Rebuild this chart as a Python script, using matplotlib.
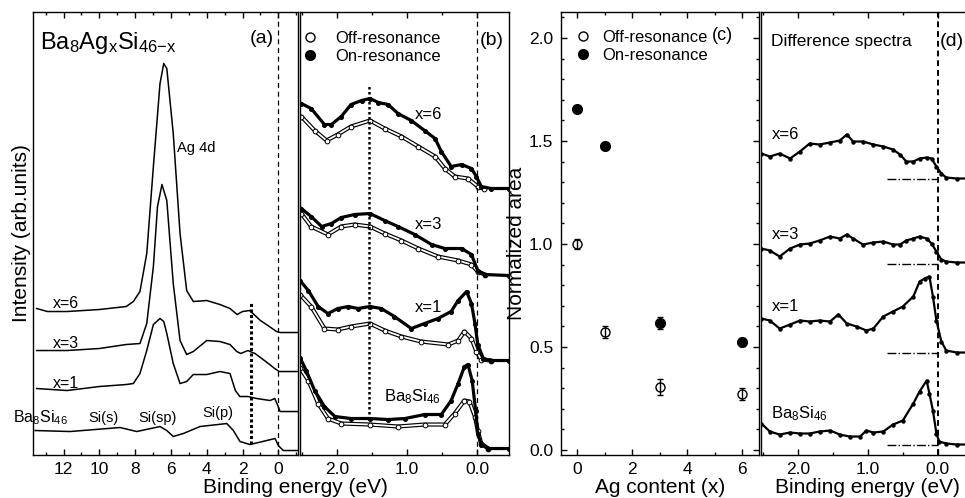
import matplotlib
matplotlib.use('Agg')
import matplotlib.pyplot as plt
from matplotlib.lines import Line2D
from matplotlib.ticker import MultipleLocator, FormatStrFormatter

plt.rcParams['font.family'] = ['Liberation Sans', 'DejaVu Sans']
plt.rcParams['mathtext.fontset'] = 'custom'
plt.rcParams['mathtext.rm'] = 'Liberation Sans'
plt.rcParams['mathtext.it'] = 'Liberation Sans:italic'
plt.rcParams['axes.linewidth'] = 1.0

# ---- (a) valence band, wide range (arb. units) ----
a6_e = [13.5, 12.9, 11.8, 10.0, 8.5, 8.1, 7.73, 7.35, 6.98, 6.61, 6.4, 6.23, 5.87, 5.49,
        5.12, 4.75, 4.0, 3.26, 2.7, 2.3, 2.0, 1.6, 1.0, 0.5, 0.1, -0.1, -1.1]
a6_i = [146, 143, 143, 145, 148, 153, 163, 201, 288, 371, 391, 386, 321, 221,
        164, 153, 154, 150, 146, 140, 143, 144, 134, 128, 123, 122, 122]
a3_e = [13.5, 11.8, 10.0, 8.5, 7.73, 7.35, 6.98, 6.75, 6.5, 6.23, 5.87, 5.49, 5.12, 4.75,
        4.0, 3.26, 2.7, 2.32, 2.1, 1.7, 1.3, 0.7, 0.2, -0.05, -1.1]
a3_i = [104, 104, 106, 110, 111, 131, 188, 248, 270, 254, 171, 114, 100, 103,
        114, 113, 110, 103, 101, 104, 101, 93, 86, 83, 83]
a1_e = [13.5, 11.8, 10.0, 8.5, 8.1, 7.73, 7.35, 6.98, 6.61, 6.4, 6.23, 5.87, 5.49, 5.12,
        4.75, 4.0, 3.26, 2.7, 2.4, 2.15, 1.7, 1.2, 0.46, 0.2, 0.05, -0.1, -1.1]
a1_i = [66, 64, 68, 70, 71, 81, 104, 130, 136, 133, 121, 91, 71, 73,
        80, 80, 83, 81, 64, 58, 58, 56, 54, 56, 50, 43, 43]
a0_e = [13.59, 11.64, 8.84, 7.91, 6.61, 6.23, 5.87, 5.31, 4.37, 2.88, 2.51, 2.14, 1.58,
        0.65, 0.18, 0.0, -0.28, -1.1]
a0_i = [24, 23, 27, 23, 28, 24, 18, 21, 28, 31, 24, 13, 10, 14, 16, 9, 4, 4]

# ---- (b) near-EF spectra, off / on resonance ----
b6_on_e = [2.51, 2.37, 2.18, 2.08, 1.94, 1.80, 1.65, 1.53, 1.41, 1.27, 1.13, 0.94, 0.75,
           0.60, 0.51, 0.37, 0.22, 0.08, 0.01, -0.06, -0.20, -0.45]
b6_on_i = [351, 346, 330, 330, 338, 350, 354, 356, 352, 350, 341, 334, 324,
           316, 303, 288, 290, 286, 278, 268, 266, 266]
b6_off_e = [2.51, 2.32, 2.15, 1.99, 1.80, 1.53, 1.32, 1.08, 0.84, 0.60, 0.46, 0.32, 0.13,
            -0.01, -0.10]
b6_off_i = [338, 324, 314, 320, 328, 334, 326, 318, 308, 298, 286, 278, 276, 268, 266]
b3_on_e = [2.51, 2.37, 2.22, 2.08, 1.94, 1.75, 1.53, 1.32, 1.13, 0.89, 0.65, 0.46, 0.22,
           0.08, -0.01, -0.11, -0.45]
b3_on_i = [246, 238, 228, 231, 237, 240, 241, 234, 228, 220, 210, 206, 206,
           200, 184, 180, 179]
b3_off_e = [2.51, 2.37, 2.13, 1.94, 1.75, 1.53, 1.32, 1.08, 0.84, 0.56, 0.27, 0.08, -0.01,
            -0.11]
b3_off_i = [241, 228, 220, 228, 230, 228, 221, 214, 206, 198, 194, 190, 183, 180]
b1_on_e = [2.53, 2.41, 2.27, 2.13, 1.99, 1.84, 1.70, 1.53, 1.37, 1.18, 0.94, 0.75, 0.56,
           0.37, 0.27, 0.15, 0.08, 0.03, -0.01, -0.09, -0.20, -0.45]
b1_on_i = [174, 164, 148, 141, 146, 148, 146, 148, 146, 138, 126, 131, 136,
           143, 154, 163, 151, 131, 110, 96, 94, 94]
b1_off_e = [2.53, 2.37, 2.18, 1.99, 1.80, 1.53, 1.32, 1.08, 0.80, 0.41, 0.27, 0.18, 0.08,
            0.01, -0.06, -0.20]
b1_off_i = [160, 148, 126, 125, 128, 131, 124, 118, 113, 110, 114, 123, 116, 103, 95, 94]
b0_on_e = [2.53, 2.44, 2.32, 2.18, 2.03, 1.80, 1.53, 1.27, 1.03, 0.75, 0.51, 0.37, 0.27,
           0.18, 0.13, 0.07, 0.02, -0.01, -0.06, -0.16, -0.45]
b0_on_i = [97, 84, 64, 48, 38, 36, 36, 35, 36, 40, 40, 54, 71,
           88, 90, 74, 44, 21, 10, 6, 6]
b0_off_e = [2.53, 2.41, 2.27, 2.13, 1.94, 1.53, 1.13, 0.75, 0.46, 0.32, 0.18, 0.11, 0.03,
            -0.01, -0.06, -0.16]
b0_off_i = [87, 74, 51, 36, 31, 30, 28, 30, 30, 41, 54, 53, 38, 24, 11, 6]

# ---- (c) normalized area vs Ag content ----
ag_x = [0, 1, 3, 6]
area_off = [1.00, 0.573, 0.306, 0.272]
area_off_err = [0.025, 0.03, 0.04, 0.03]
area_on = [1.655, 1.476, 0.617, 0.524]
area_on_err = [0.015, 0.012, 0.03, 0.02]

# ---- (d) difference spectra ----
d_e = [2.52, 2.40, 2.26, 2.11, 1.97, 1.83, 1.69, 1.54, 1.40, 1.30, 1.21, 1.07, 0.92,
       0.78, 0.64, 0.54, 0.45, 0.35, 0.26, 0.16, 0.09, 0.02, -0.05, -0.12, -0.27, -0.43]
d6_i = [301, 298, 301, 296, 303, 311, 310, 312, 314, 320, 313, 313, 310,
        308, 305, 300, 293, 293, 296, 297, 296, 288, 281, 277, 276, 276]
d3_i = [206, 204, 198, 206, 210, 211, 214, 218, 216, 220, 216, 210, 212,
        213, 210, 210, 214, 216, 218, 216, 211, 203, 195, 193, 192, 192]
d1_e = [2.52, 2.40, 2.26, 2.11, 1.97, 1.83, 1.69, 1.54, 1.42, 1.30, 1.16, 1.02, 0.92,
        0.78, 0.64, 0.50, 0.35, 0.26, 0.19, 0.12, 0.07, 0.02, -0.05, -0.12, -0.27, -0.43]
d1_i = [136, 134, 126, 130, 134, 133, 134, 133, 140, 131, 128, 124, 126,
        138, 143, 148, 158, 173, 176, 178, 158, 134, 113, 104, 102, 102]
d0_e = [2.52, 2.40, 2.26, 2.11, 1.97, 1.83, 1.69, 1.54, 1.40, 1.26, 1.11, 1.02, 0.92,
        0.78, 0.64, 0.50, 0.35, 0.26, 0.16, 0.12, 0.07, 0.02, -0.02, -0.12, -0.27, -0.43]
d0_i = [31, 23, 20, 22, 21, 21, 23, 24, 20, 18, 18, 24, 22,
        23, 30, 34, 51, 63, 74, 61, 44, 21, 13, 11, 10, 10]
d_zero = [276, 191, 102, 10]
d_zero_from, d_zero_to = 0.72, 0.0

mark_e = 1.54
mark_a = (11, 153)
mark_b = (36, 370)

fig = plt.figure(figsize=(9.65, 4.98), dpi=100)
bot, hgt = 0.0873, 0.8876
ax_a = fig.add_axes([0.0345, bot, 0.2743, hgt])
ax_b = fig.add_axes([0.3104, bot, 0.2166, hgt])
ax_c = fig.add_axes([0.5813, bot, 0.2057, hgt])
ax_d = fig.add_axes([0.7883, bot, 0.2148, hgt])


def style(ax, major, minor, fmt):
    ax.xaxis.set_major_locator(MultipleLocator(major))
    ax.xaxis.set_minor_locator(MultipleLocator(minor))
    ax.xaxis.set_major_formatter(FormatStrFormatter(fmt))
    ax.tick_params(which='both', direction='in', top=True, labelsize=12.5, pad=5.5, width=1)
    ax.tick_params(which='major', length=4.5)
    ax.tick_params(which='minor', length=2.5)


for ax in (ax_a, ax_b, ax_d):
    ax.set_ylim(0, 442)
    ax.set_yticks([])

# (a)
ax_a.set_xlim(13.69, -1.10)
style(ax_a, 2, 1, '%d')
for e, i in ((a6_e, a6_i), (a3_e, a3_i), (a1_e, a1_i), (a0_e, a0_i)):
    ax_a.plot(e, i, color='k', lw=1.1)
ax_a.axvline(0, color='k', lw=0.9, ls=(0, (4, 3)))
ax_a.vlines(mark_e, *mark_a, color='k', lw=2.2, linestyles=(0, (1, 0.8)))
ax_a.set_ylabel('Intensity (arb.units)', fontsize=15, labelpad=2)
ax_a.text(13.3, 406, r'Ba$_8$Ag$_\mathrm{x}$Si$_\mathrm{46{-}x}$', fontsize=17, va='baseline')
ax_a.text(0.25, 412, '(a)', fontsize=14, ha='right', va='baseline')
ax_a.text(5.66, 303, 'Ag 4d', fontsize=10.5, va='baseline')
for y, s in ((147, 'x=6'), (107, 'x=3'), (67, 'x=1')):
    ax_a.text(12.6, y, s, fontsize=11.5, va='baseline')
ax_a.text(14.82, 32, r'Ba$_8$Si$_{46}$', fontsize=11.5, va='baseline')
ax_a.text(10.63, 33, 'Si(s)', fontsize=10.5, va='baseline')
ax_a.text(7.84, 33, 'Si(sp)', fontsize=10.5, va='baseline')
ax_a.text(4.26, 38, 'Si(p)', fontsize=10.5, va='baseline')

# (b)
ax_b.set_xlim(2.536, -0.45)
style(ax_b, 1.0, 0.5, '%.1f')
for e, i in ((b6_off_e, b6_off_i), (b3_off_e, b3_off_i), (b1_off_e, b1_off_i), (b0_off_e, b0_off_i)):
    ax_b.plot(e, i, color='k', lw=3.0, solid_capstyle='round')
    ax_b.plot(e, i, color='white', lw=1.3, solid_capstyle='round')
    ax_b.plot(e, i, ls='none', marker='o', ms=3.4, mfc='white', mec='k', mew=0.7)
for e, i in ((b6_on_e, b6_on_i), (b3_on_e, b3_on_i), (b1_on_e, b1_on_i), (b0_on_e, b0_on_i)):
    ax_b.plot(e, i, color='k', lw=2.3, marker='o', ms=2.6)
ax_b.axvline(0, color='k', lw=0.9, ls=(0, (4, 3)))
ax_b.vlines(mark_e, *mark_b, color='k', lw=1.8, linestyles=(0, (1, 1)))
h_off = Line2D([], [], ls='none', marker='o', ms=6.5, mfc='white', mec='k')
h_on = Line2D([], [], ls='none', marker='o', ms=7, color='k')
ax_b.legend([h_off, h_on], ['Off-resonance', 'On-resonance'], loc='upper left',
            bbox_to_anchor=(0.018, 0.959), frameon=False, fontsize=12, handlelength=0.8,
            handletextpad=1.1, labelspacing=0.2, borderpad=0, borderaxespad=0)
ax_b.text(-0.04, 410, '(b)', fontsize=14, va='baseline')
for y, s in ((336, 'x=6'), (226, 'x=3'), (143, 'x=1')):
    ax_b.text(0.89, y, s, fontsize=12, va='baseline')
ax_b.text(1.33, 53, r'Ba$_8$Si$_{46}$', fontsize=12, va='baseline')

# (c)
ax_c.set_xlim(-0.60, 6.63)
ax_c.set_ylim(-0.022, 2.124)
style(ax_c, 2, 1, '%d')
ax_c.yaxis.set_major_locator(MultipleLocator(0.5))
ax_c.yaxis.set_minor_locator(MultipleLocator(0.1))
ax_c.yaxis.set_major_formatter(FormatStrFormatter('%.1f'))
ax_c.tick_params(which='both', right=True)
ax_c.errorbar(ag_x, area_off, yerr=area_off_err, fmt='o', ms=6.5, mfc='none', mec='k',
              ecolor='k', elinewidth=1, capsize=2.2, mew=1)
ax_c.errorbar(ag_x, area_on, yerr=area_on_err, fmt='o', ms=7, color='k',
              elinewidth=1, capsize=2.2)
ax_c.legend([h_off, h_on], ['Off-resonance', 'On-resonance'], loc='upper left',
            bbox_to_anchor=(0.077, 0.9615), frameon=False, fontsize=12, handlelength=0.8,
            handletextpad=0.74, labelspacing=0.2, borderpad=0, borderaxespad=0)
ax_c.text(4.88, 1.99, '(c)', fontsize=13, va='baseline')

# (d)
ax_d.set_xlim(2.53, -0.431)
style(ax_d, 1.0, 0.5, '%.1f')
for e, i in ((d_e, d6_i), (d_e, d3_i), (d1_e, d1_i), (d0_e, d0_i)):
    ax_d.plot(e, i, color='k', lw=1.6, marker='o', ms=2.2)
ax_d.hlines(d_zero, d_zero_from, d_zero_to, color='k', lw=1, linestyles='-.')
ax_d.axvline(0, color='k', lw=1.4, ls=(0, (3, 2)))
ax_d.text(2.376, 409, 'Difference spectra', fontsize=12.5, va='baseline')
ax_d.text(-0.03, 409, '(d)', fontsize=14, va='baseline')
for y, s in ((316, 'x=6'), (216, 'x=3'), (144, 'x=1')):
    ax_d.text(2.376, y, s, fontsize=12, va='baseline')
ax_d.text(2.376, 36, r'Ba$_8$Si$_{46}$', fontsize=12, va='baseline')

# axis titles placed under the panels
base = 1 - 492.7 / 498
fig.text(295 / 965, base, 'Binding energy (eV)', fontsize=15, ha='center', va='baseline')
fig.text(660 / 965, base, 'Ag content (x)', fontsize=15, ha='center', va='baseline')
fig.text(867.5 / 965, base, 'Binding energy (eV)', fontsize=15, ha='center', va='baseline')
fig.text(517 / 965, 1 - 243 / 498, 'Normalized area', fontsize=15, rotation=90,
         ha='center', va='center')

fig.savefig('out.png', dpi=100)
